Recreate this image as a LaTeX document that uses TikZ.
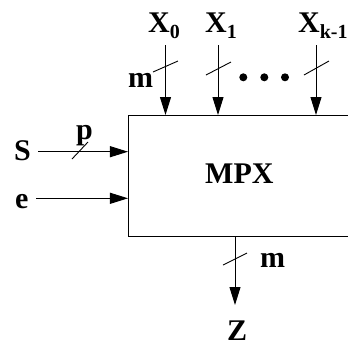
\documentclass[tikz,border=0pt]{standalone}
\usepackage{fontspec}
\setmainfont{Liberation Serif}
\usetikzlibrary{arrows.meta}
\newcommand{\bigf}{\fontsize{30bp}{30bp}\selectfont\bfseries}
\newcommand{\subf}{\fontsize{20bp}{20bp}\selectfont\bfseries}
\newcommand{\Xs}[1]{X\raisebox{-6bp}{\subf #1}}
\begin{document}
\begin{tikzpicture}[x=1bp,y=-1bp,
  lbl/.style={inner sep=0pt,anchor=base west,font=\bigf},
  wire/.style={line width=1bp,-{Triangle[length=18bp,width=11bp]}},
  tick/.style={line width=0.9bp},
  blk/.style={draw,line width=1.2bp,minimum width=240bp,minimum height=121bp,inner sep=0pt,anchor=north west}]
\useasboundingbox (0,0) rectangle (348,347);
\node[blk] (box) at (128,115) {};
\node[lbl] (mpx) at (205,183) {MPX};
% top labels
\node[lbl] (x0) at (148,32) {\Xs{0}};
\node[lbl] (x1) at (205,32) {\Xs{1}};
\node[lbl] (xk) at (298,32) {\Xs{k-1}};
\coordinate (a0) at (165.5,45);
\coordinate (a1) at (218,45);
\coordinate (ak) at (316,45);
\draw[wire] (a0) -- (a0 |- box.north);
\draw[wire] (a1) -- (a1 |- box.north);
\draw[wire] (ak) -- (ak |- box.north);
\draw[tick] (153,72) -- (178,61);
\draw[tick] (206,75) -- (231,62);
\draw[tick] (304,75) -- (329,61);
\node[lbl] (mt) at (128,87) {m};
\fill (243.3,77.3) circle (4bp) (264.3,77.3) circle (4bp) (285,77.3) circle (4bp);
% left inputs
\node[lbl] (s) at (14,160) {S};
\node[lbl] (e) at (15,208) {e};
\node[lbl] (p) at (76,139) {p};
\coordinate (sa) at (38,151.7);
\coordinate (ea) at (36,198.3);
\draw[wire] (sa) -- (sa -| box.west);
\draw[wire] (ea) -- (ea -| box.west);
\draw[tick] (72,159) -- (88,142);
% output
\coordinate (za) at (235,305);
\draw[wire] (za |- box.south) -- (za);
\draw[tick] (223,265) -- (247,253);
\node[lbl] (mb) at (260,267) {m};
\node[lbl] (z) at (227,340) {Z};
\end{tikzpicture}
\end{document}
